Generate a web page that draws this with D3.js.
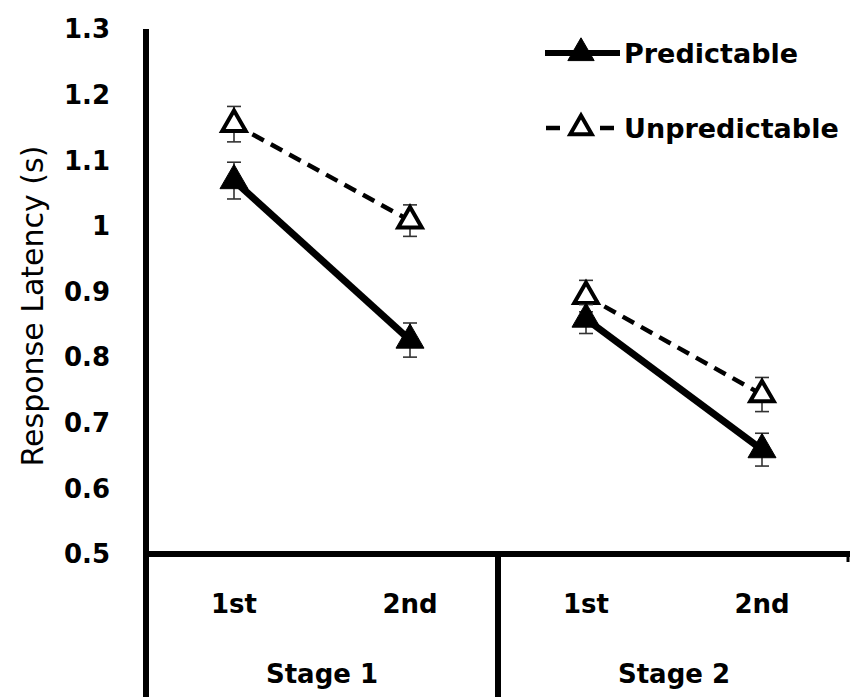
<!DOCTYPE html>
<html><head><meta charset="utf-8">
<script src="https://cdn.jsdelivr.net/npm/d3@7"></script>
<style>body{margin:0;background:#fff}</style></head>
<body><svg id="c" width="851" height="697"></svg>
<script>
const categories = ["S1-1st","S1-2nd","S2-1st","S2-2nd"];
const catLabels = ["1st","2nd","1st","2nd"];
const stages = ["Stage 1","Stage 2"];
const predictable = [1.069, 0.826, 0.858, 0.659];
const predictableErr = [0.028, 0.026, 0.022, 0.025];
const unpredictable = [1.155, 1.008, 0.893, 0.743];
const unpredictableErr = [0.027, 0.024, 0.024, 0.026];
const yTicks = [0.5,0.6,0.7,0.8,0.9,1,1.1,1.2,1.3];
const yTickLabels = ["0.5","0.6","0.7","0.8","0.9","1","1.1","1.2","1.3"];
const seriesNames = ["Predictable","Unpredictable"];

const svg = d3.select("#c");
const FONT = "DejaVu Sans, sans-serif";
const y = d3.scaleLinear().domain([0.5,1.3]).range([554,29]);
const x = d3.scaleBand().domain(categories).range([146,850]);
const cx = c => x(c) + x.bandwidth()/2;
const stageX = d3.scaleBand().domain(stages).range([146,850]);

// y tick labels
svg.append("g").selectAll("text").data(yTicks).join("text")
  .attr("x",110).attr("y",d=>y(d)).attr("dy","0.36em")
  .attr("text-anchor","end").attr("font-family",FONT).attr("font-weight","bold")
  .attr("font-size",26).text((d,i)=>yTickLabels[i]);

// y title
svg.append("text").attr("transform","translate(43,306) rotate(-90)")
  .attr("text-anchor","middle").attr("font-family",FONT).attr("font-size",30)
  .text("Response Latency (s)");

// axes
svg.append("line").attr("x1",146).attr("x2",146).attr("y1",y(1.3)).attr("y2",697)
  .attr("stroke","#000").attr("stroke-width",6);
svg.append("line").attr("x1",143).attr("x2",850).attr("y1",y(0.5)).attr("y2",y(0.5))
  .attr("stroke","#000").attr("stroke-width",6);
svg.append("line").attr("x1",stageX("Stage 2")).attr("x2",stageX("Stage 2")).attr("y1",y(0.5)).attr("y2",697)
  .attr("stroke","#000").attr("stroke-width",6);
svg.append("line").attr("x1",848).attr("x2",848).attr("y1",y(0.5)).attr("y2",y(0.5)+8)
  .attr("stroke","#000").attr("stroke-width",3);

// category labels
svg.append("g").selectAll("text").data(categories).join("text")
  .attr("x",d=>cx(d)).attr("y",604).attr("dy","0.36em").attr("text-anchor","middle")
  .attr("font-family",FONT).attr("font-weight","bold").attr("font-size",26)
  .text((d,i)=>catLabels[i]);
svg.append("g").selectAll("text").data(stages).join("text")
  .attr("x",d=>stageX(d)+stageX.bandwidth()/2).attr("y",683).attr("text-anchor","middle")
  .attr("font-family",FONT).attr("font-weight","bold").attr("font-size",26)
  .text(d=>d);

function drawSeries(vals, errs, solid){
  const pairs = [[0,1],[2,3]];
  pairs.forEach(p=>{
    svg.append("path").datum(p)
      .attr("d", d3.line().x(i=>cx(categories[i])).y(i=>y(vals[i])))
      .attr("fill","none").attr("stroke","#000")
      .attr("stroke-width", solid?7:4.5)
      .attr("stroke-dasharray", solid?null:"13,8");
  });
  // error bars
  categories.forEach((c,i)=>{
    const g = svg.append("g").attr("stroke","#333").attr("stroke-width",1.6);
    g.append("line").attr("x1",cx(c)).attr("x2",cx(c)).attr("y1",y(vals[i]+errs[i])).attr("y2",y(vals[i]-errs[i]));
    [vals[i]+errs[i], vals[i]-errs[i]].forEach(v=>{
      g.append("line").attr("x1",cx(c)-7).attr("x2",cx(c)+7).attr("y1",y(v)).attr("y2",y(v));
    });
  });
  const sym = d3.symbol().type(d3.symbolTriangle).size(solid?340:240);
  svg.append("g").selectAll("path").data(vals).join("path")
    .attr("d",sym).attr("transform",(d,i)=>`translate(${cx(categories[i])},${y(d)})`)
    .attr("fill",solid?"#000":"#fff").attr("stroke","#000").attr("stroke-width",solid?1:4);
}
drawSeries(unpredictable, unpredictableErr, false);
drawSeries(predictable, predictableErr, true);

// legend
const leg = [{y:53, solid:true},{y:128, solid:false}];
leg.forEach((l,i)=>{
  const g = svg.append("g");
  if(l.solid){
    g.append("line").attr("x1",545).attr("x2",620).attr("y1",l.y).attr("y2",l.y).attr("stroke","#000").attr("stroke-width",6);
  } else {
    g.append("line").attr("x1",546).attr("x2",560).attr("y1",l.y).attr("y2",l.y).attr("stroke","#000").attr("stroke-width",4.5);
    g.append("line").attr("x1",600).attr("x2",614).attr("y1",l.y).attr("y2",l.y).attr("stroke","#000").attr("stroke-width",4.5);
  }
  g.append("path").attr("d",d3.symbol().type(d3.symbolTriangle).size(l.solid?300:200)())
    .attr("transform",`translate(581,${l.y})`)
    .attr("fill",l.solid?"#000":"#fff").attr("stroke","#000").attr("stroke-width",l.solid?1:4);
  g.append("text").attr("x",624).attr("y",l.y).attr("dy","0.36em")
    .attr("font-family",FONT).attr("font-weight","bold").attr("font-size",27).text(seriesNames[i]);
});
</script></body></html>
